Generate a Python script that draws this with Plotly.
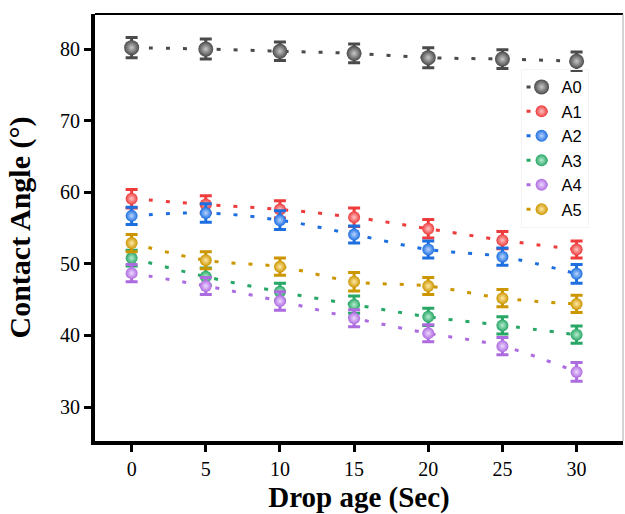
import plotly.graph_objects as go

# ---- data ----
drop_age = [0, 5, 10, 15, 20, 25, 30]
series_names = ["A0", "A1", "A2", "A3", "A4", "A5"]
A0 = [80.2, 80.0, 79.7, 79.4, 78.8, 78.6, 78.3]
A1 = [59.1, 58.3, 57.6, 56.5, 54.9, 53.3, 52.0]
A2 = [56.7, 57.1, 56.1, 54.1, 52.0, 51.0, 48.6]
A3 = [50.8, 48.2, 46.1, 44.3, 42.6, 41.4, 40.1]
A4 = [48.7, 46.9, 44.8, 42.4, 40.3, 38.5, 34.9]
A5 = [52.9, 50.5, 49.6, 47.5, 46.9, 45.2, 44.4]
err_A0 = [1.4, 1.4, 1.3, 1.3, 1.4, 1.3, 1.3]
err_A1 = [1.3, 1.2, 1.2, 1.3, 1.3, 1.2, 1.2]
err_A2 = [1.2, 1.3, 1.3, 1.2, 1.2, 1.2, 1.3]
err_A3 = [1.1, 1.2, 1.2, 1.2, 1.2, 1.2, 1.2]
err_A4 = [1.2, 1.2, 1.3, 1.2, 1.2, 1.2, 1.3]
err_A5 = [1.2, 1.2, 1.2, 1.3, 1.2, 1.2, 1.2]

values = {"A0": A0, "A1": A1, "A2": A2, "A3": A3, "A4": A4, "A5": A5}
errors = {"A0": err_A0, "A1": err_A1, "A2": err_A2, "A3": err_A3, "A4": err_A4, "A5": err_A5}

colors = {"A0": "#4a4a4a", "A1": "#ee3b3b", "A2": "#1d6fe0", "A3": "#27a765",
          "A4": "#ad6be0", "A5": "#cc9600"}
highlights = {"A0": "#c8c8c8", "A1": "#ffc4c4", "A2": "#b8d4ff", "A3": "#b8ecd0",
              "A4": "#eed8ff", "A5": "#ffe9a8"}
sizes = {"A0": 15, "A1": 12, "A2": 12, "A3": 12, "A4": 12, "A5": 12}

fig = go.Figure()
for name in series_names:
    c = colors[name]
    fig.add_trace(go.Scatter(
        x=drop_age, y=values[name], name=name,
        mode="lines+markers",
        line=dict(color=c, width=3, dash="4px,13px", shape="spline"),
        marker=dict(size=sizes[name], color=c, line=dict(width=0),
                    gradient=dict(type="radial", color=highlights[name])),
        error_y=dict(type="data", array=errors[name], visible=True,
                     color=c, thickness=3, width=6),
    ))

serif = "Liberation Serif"
fig.update_layout(
    width=625, height=514,
    margin=dict(l=95, r=2, t=14, b=73),
    paper_bgcolor="white", plot_bgcolor="white",
    showlegend=True,
    legend=dict(x=0.806, y=0.872, xanchor="left", yanchor="top",
                font=dict(family="Liberation Sans", size=16.5, color="black"),
                bgcolor="rgba(255,255,255,0)", bordercolor="#f4f4f4", borderwidth=1,
                itemwidth=30),
    xaxis=dict(range=[-2.47, 33.13], tickvals=drop_age, ticktext=[str(v) for v in drop_age],
               showgrid=False, zeroline=False, showline=True, linecolor="black", linewidth=4,
               ticks="outside", ticklen=7, tickwidth=3, tickcolor="black",
               tickfont=dict(family=serif, size=20, color="black"),
               title=dict(text="<b>Drop age (Sec)</b>", standoff=10,
                          font=dict(family=serif, size=29, color="black"))),
    yaxis=dict(range=[25.25, 84.9], tickvals=[30, 40, 50, 60, 70, 80],
               showgrid=False, zeroline=False, showline=True, linecolor="black", linewidth=4,
               ticks="outside", ticklen=7, tickwidth=3, tickcolor="black",
               tickfont=dict(family=serif, size=20, color="black"),
               title=dict(text="<b>Contact Angle (°)</b>", standoff=22,
                          font=dict(family=serif, size=30, color="black"))),
    shapes=[
        dict(type="line", xref="paper", yref="paper", x0=0, x1=1, y0=1, y1=1,
             line=dict(color="black", width=2)),
        dict(type="line", xref="paper", yref="paper", x0=1, x1=1, y0=0, y1=1,
             line=dict(color="#aaaaaa", width=1)),
    ],
)

fig.write_html("out.html")
